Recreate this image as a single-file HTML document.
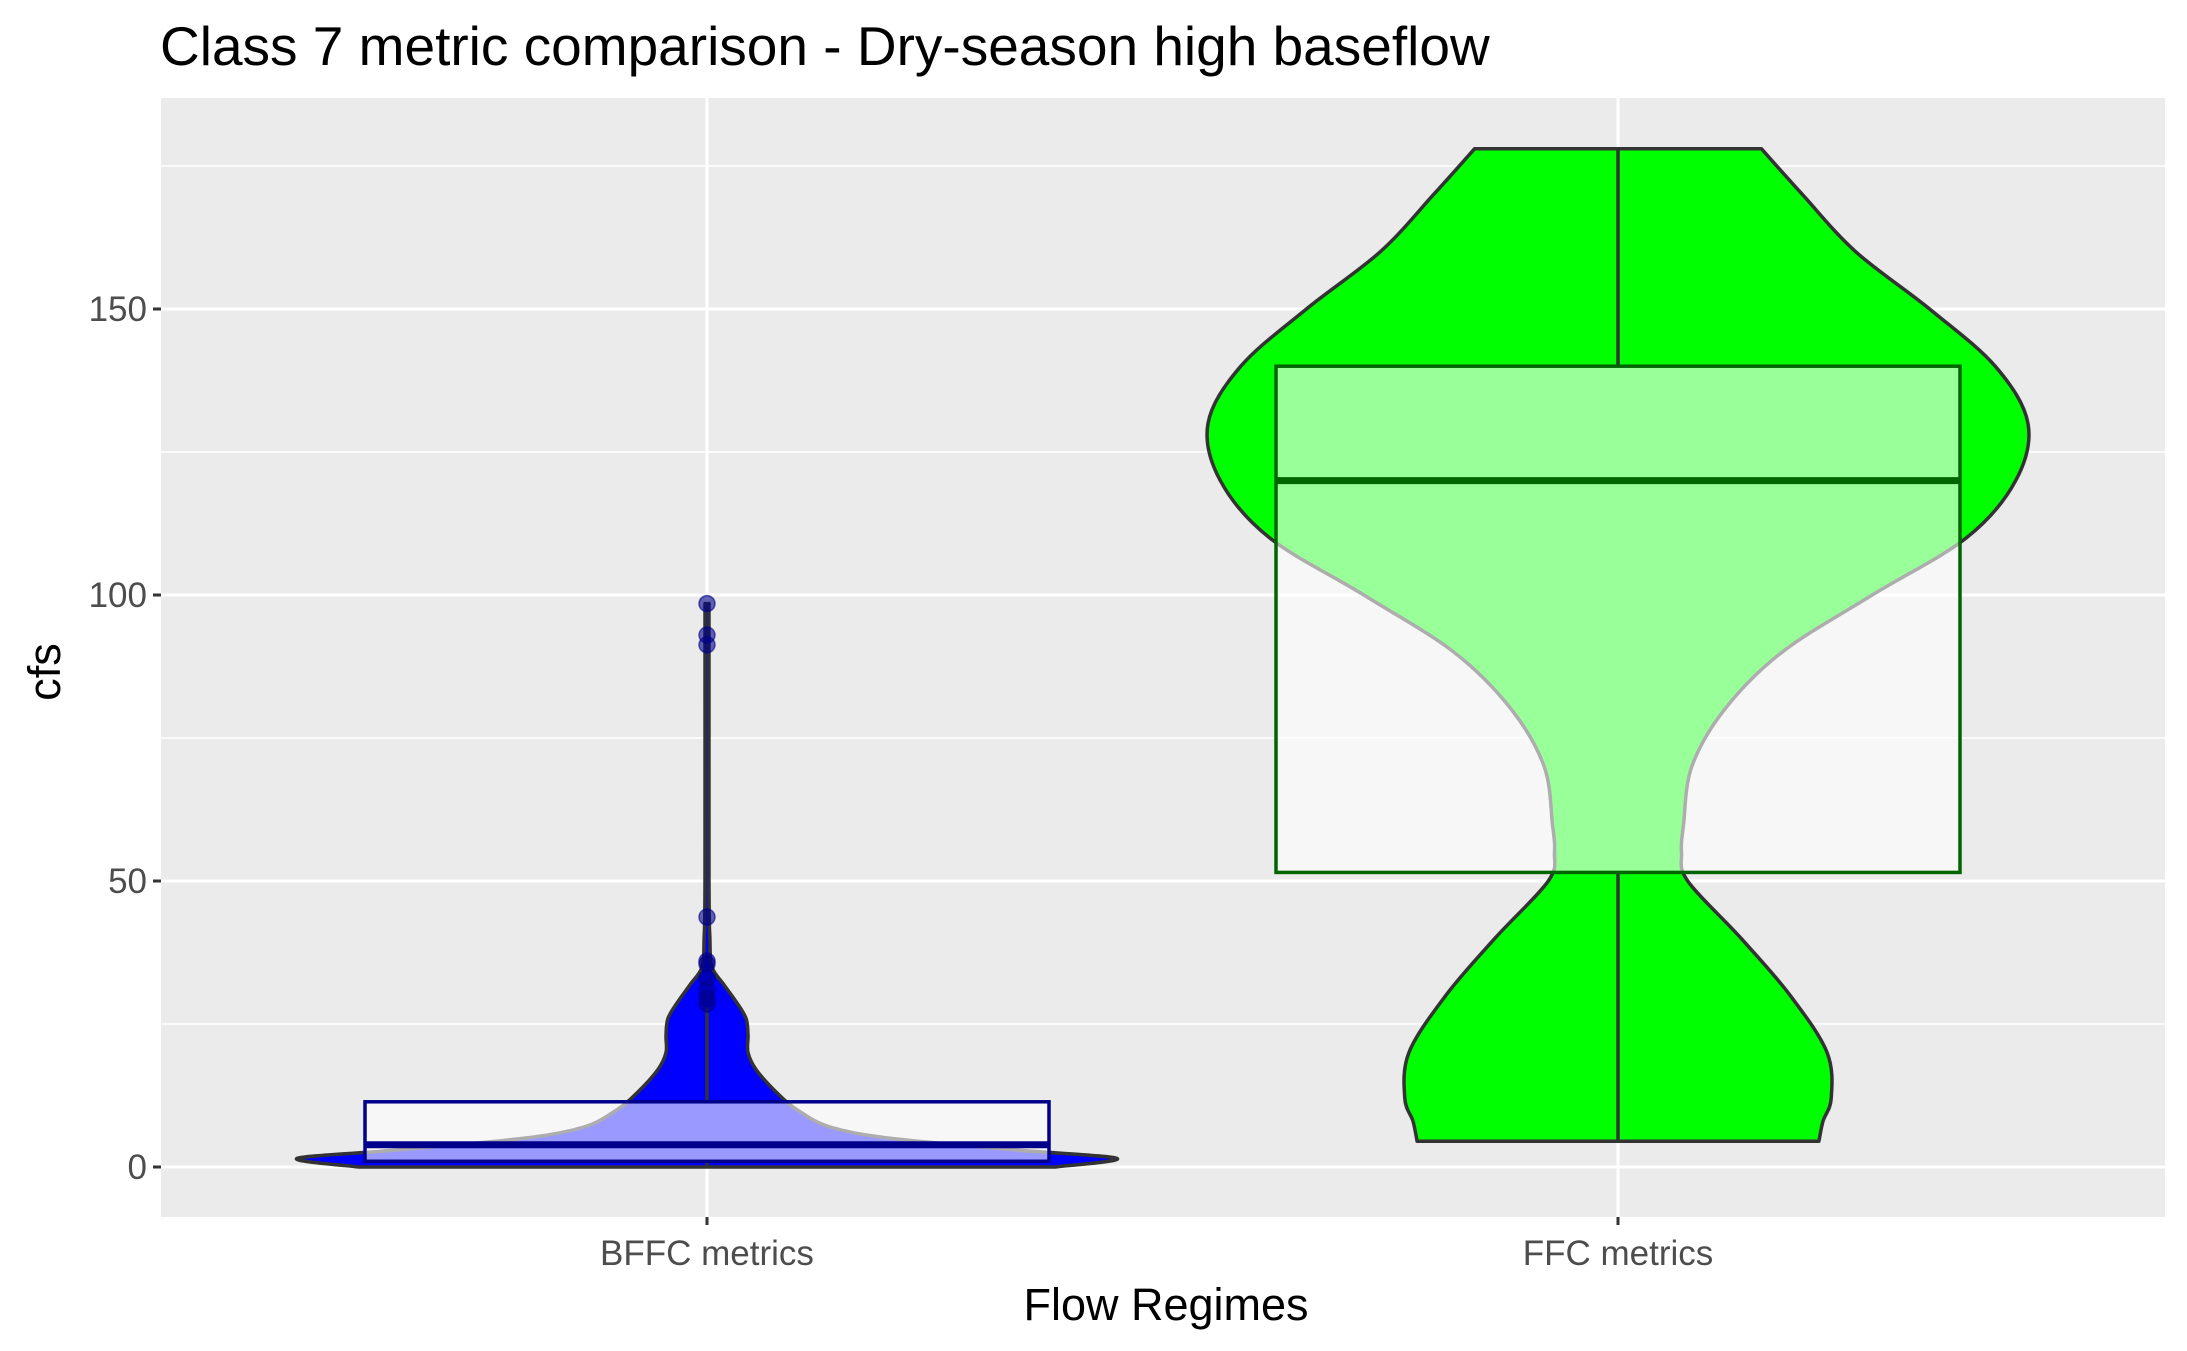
<!DOCTYPE html>
<html><head><meta charset="utf-8"><style>
body{margin:0;background:#fff;}
svg{display:block;font-family:"Liberation Sans",sans-serif;}
</style></head><body>
<svg id="chart" width="2187" height="1351" viewBox="0 0 2187 1351">
<text x="160" y="65" font-size="55" fill="#000">Class 7 metric comparison - Dry-season high baseflow</text>
<rect x="161" y="98" width="2004" height="1119" fill="#ebebeb"/>
<g id="grid"></g><g id="marks"></g><g id="axes"></g>
<text x="1166" y="1320" font-size="45" text-anchor="middle" fill="#000">Flow Regimes</text>
<text transform="translate(60,672) rotate(-90)" font-size="45" text-anchor="middle" fill="#000">cfs</text>
</svg>
<script>
const categories=["BFFC metrics","FFC metrics"];
const yTicks=[0,50,100,150];
const yMinor=[25,75,125,175];
const bffcViolinVals=[0,1.5,3,5,7,10,13,17,20,23,26,29,32,35,40,50,98.5];
const bffcViolinWidth=[0.85,1.0,0.75,0.45,0.3,0.22,0.17,0.12,0.1,0.1,0.095,0.07,0.04,0.012,0.007,0.005,0.005];
const ffcViolinVals=[4.5,8,12,20,30,40,50,55,60,70,80,90,100,110,120,130,140,150,160,170,178];
const ffcViolinWidth=[0.49,0.5,0.52,0.51,0.42,0.3,0.17,0.155,0.16,0.18,0.26,0.4,0.62,0.85,0.97,1.0,0.92,0.76,0.58,0.45,0.35];
const bffcBox=[0,1,3.9,11.4,28];
const ffcBox=[4.5,51.5,120,140,178];
const bffcOutliers=[98.5,93,91.3,43.7,36,35.5,33,31,29.5,28.5];
const NS="http://www.w3.org/2000/svg";
const L=161,R=2165,T=98,B=1217;
function y(v){return 1167-v*5.72;}
function x(i){return 707+i*911;}
const VW=410, BW=342;
function mk(tag,attrs,parent){const e=document.createElementNS(NS,tag);for(const k in attrs)e.setAttribute(k,attrs[k]);parent.appendChild(e);return e;}
const grid=document.getElementById('grid'),marks=document.getElementById('marks'),axes=document.getElementById('axes');
yMinor.forEach(v=>{const l=mk('line',{x1:L,x2:R,y1:y(v),y2:y(v),stroke:'#fff','stroke-width':1.5},grid);

});
yTicks.forEach(v=>{const l=mk('line',{x1:L,x2:R,y1:y(v),y2:y(v),stroke:'#fff','stroke-width':3},grid);


const t=mk('line',{x1:L-8,x2:L,y1:y(v),y2:y(v),stroke:'#333','stroke-width':3},axes);


const tx=mk('text',{x:L-14,y:y(v)+12,'font-size':35,fill:'#4d4d4d','text-anchor':'end'},axes);tx.textContent=v;

});
categories.forEach((c,i)=>{const l=mk('line',{x1:x(i),x2:x(i),y1:T,y2:B,stroke:'#fff','stroke-width':3},grid);


const t=mk('line',{x1:x(i),x2:x(i),y1:B,y2:B+8,stroke:'#333','stroke-width':3},axes);


const tx=mk('text',{x:x(i),y:B+48,'font-size':35,fill:'#4d4d4d','text-anchor':'middle'},axes);tx.textContent=c;

});
function curve(p){
  let d='';
  for(let k=0;k<p.length-1;k++){
    const p0=p[Math.max(k-1,0)],p1=p[k],p2=p[k+1],p3=p[Math.min(k+2,p.length-1)];
    const c1=[p1[0]+(p2[0]-p0[0])/6,p1[1]+(p2[1]-p0[1])/6];
    const c2=[p2[0]-(p3[0]-p1[0])/6,p2[1]-(p3[1]-p1[1])/6];
    d+='C'+c1[0].toFixed(1)+','+c1[1].toFixed(1)+' '+c2[0].toFixed(1)+','+c2[1].toFixed(1)+' '+p2[0].toFixed(1)+','+p2[1].toFixed(1);
  }
  return d;
}
function violinPath(i,vals,w){
  const right=vals.map((v,k)=>[x(i)+w[k]*VW,y(v)]);
  const left=vals.map((v,k)=>[x(i)-w[k]*VW,y(v)]).reverse();
  return 'M'+right[0][0].toFixed(1)+','+right[0][1].toFixed(1)+curve(right)+'L'+left[0][0].toFixed(1)+','+left[0][1].toFixed(1)+curve(left)+'Z';
}
function drawGroup(i,vals,w,fill,box,outline,outliers){
  const v=mk('path',{d:violinPath(i,vals,w),fill:fill,stroke:'#333','stroke-width':3.5,'stroke-linejoin':'round'},marks);
  
  
  const wl=mk('line',{x1:x(i),x2:x(i),y1:y(box[0]),y2:y(box[1]),stroke:'#333','stroke-width':3.5},marks);
  
  
  const wu=mk('line',{x1:x(i),x2:x(i),y1:y(box[3]),y2:y(box[4]),stroke:'#333','stroke-width':3.5},marks);
  
  
  const r=mk('rect',{x:x(i)-BW,y:y(box[3]),width:2*BW,height:y(box[1])-y(box[3]),fill:'#fff','fill-opacity':0.6,stroke:outline,'stroke-width':3.5},marks);
  
  
  const m=mk('line',{x1:x(i)-BW,x2:x(i)+BW,y1:y(box[2]),y2:y(box[2]),stroke:outline,'stroke-width':7},marks);
  
  
  (outliers||[]).forEach(o=>{const c=mk('circle',{cx:x(i),cy:y(o),r:8,fill:'#00008b','fill-opacity':0.6,stroke:'#00008b','stroke-opacity':0.6,'stroke-width':1.5},marks);
  
  });
}
drawGroup(0,bffcViolinVals,bffcViolinWidth,'#0000ff',bffcBox,'#00008b',bffcOutliers);
drawGroup(1,ffcViolinVals,ffcViolinWidth,'#00ff00',ffcBox,'#006400',[]);
</script>
</body></html>
